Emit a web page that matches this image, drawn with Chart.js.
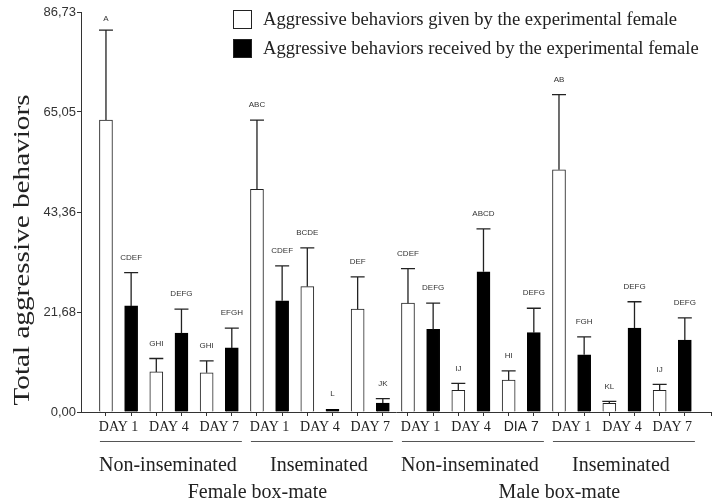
<!DOCTYPE html>
<html>
<head>
<meta charset="utf-8">
<script src="https://cdn.jsdelivr.net/npm/chart.js@4.4.1/dist/chart.umd.min.js"></script>
<style>
  html, body { margin: 0; padding: 0; background: #fff; }
  #wrap { width: 714px; height: 502px; }
</style>
</head>
<body>
<div id="wrap"><canvas id="chart" width="714" height="502"></canvas></div>
<script>
// 各グループの日付ラベル
const dayLabels = ['DAY 1', 'DAY 4', 'DAY 7', 'DAY 1', 'DAY 4', 'DAY 7', 'DAY 1', 'DAY 4', 'DIA 7', 'DAY 1', 'DAY 4', 'DAY 7'];
const statusLabels = ['Non-inseminated', 'Inseminated', 'Non-inseminated', 'Inseminated'];
const mateLabels = ['Female box-mate', 'Male box-mate'];

const seriesNames = ['Aggressive behaviors given by the experimental female', 'Aggressive behaviors received by the experimental female'];

// 平均値と誤差（上側）
const givenValues = [63.3, 8.7, 8.5, 48.3, 27.2, 22.3, 23.6, 4.7, 6.9, 52.5, 1.9, 4.7];
const givenErrors = [19.5, 2.9, 2.6, 15.0, 8.4, 7.0, 7.5, 1.5, 2.0, 16.3, 0.4, 1.3];
const receivedValues = [23.0, 17.1, 13.9, 24.1, 0.6, 1.95, 17.9, 30.4, 17.2, 12.4, 18.2, 15.6];
const receivedErrors = [7.2, 5.2, 4.3, 7.6, 0, 0.95, 5.7, 9.3, 5.3, 3.9, 5.7, 4.8];

// 有意差の文字
const givenLetters = ['A', 'GHI', 'GHI', 'ABC', 'BCDE', 'DEF', 'CDEF', 'IJ', 'HI', 'AB', 'KL', 'IJ'];
const receivedLetters = ['CDEF', 'DEFG', 'EFGH', 'CDEF', 'L', 'JK', 'DEFG', 'ABCD', 'DEFG', 'FGH', 'DEFG', 'DEFG'];

const yTicks = [0, 21.68, 43.36, 65.05, 86.73];

const SERIF = '"Liberation Serif", "Times New Roman", serif';
const SANS = '"Liberation Sans", Arial, sans-serif';
const INK = '#222';

// 白と黒の棒はカテゴリの左右に並べる
const half = 0.25;
const toPoints = (values, shift) => values.map((v, i) => ({ x: i + shift, y: v }));

const extrasPlugin = {
  id: 'extras',
  afterDatasetsDraw(chart) {
    const ctx = chart.ctx;
    const x = chart.scales.x;
    const y = chart.scales.y;
    const errs = [givenErrors, receivedErrors];
    const letters = [givenLetters, receivedLetters];

    // 誤差棒と文字
    chart.data.datasets.forEach((ds, d) => {
      const meta = chart.getDatasetMeta(d);
      meta.data.forEach((bar, i) => {
        const top = y.getPixelForValue(ds.data[i].y + errs[d][i]);
        ctx.save();
        ctx.strokeStyle = INK;
        ctx.lineWidth = 1.3;
        if (errs[d][i] > 0) {
          ctx.beginPath();
          ctx.moveTo(bar.x, bar.y);
          ctx.lineTo(bar.x, top);
          ctx.moveTo(bar.x - 7, top);
          ctx.lineTo(bar.x + 7, top);
          ctx.stroke();
        }
        ctx.fillStyle = '#333';
        ctx.font = '8px ' + SANS;
        ctx.textAlign = 'center';
        ctx.textBaseline = 'middle';
        ctx.fillText(letters[d][i], bar.x, Math.max(19, top - 15));
        ctx.restore();
      });
    });

    // グループの線とラベル
    ctx.save();
    ctx.strokeStyle = '#555';
    ctx.lineWidth = 1;
    ctx.fillStyle = INK;
    ctx.textAlign = 'center';
    ctx.textBaseline = 'alphabetic';
    ctx.font = '20px ' + SERIF;
    statusLabels.forEach((lab, g) => {
      const first = g * 3;
      const x0 = x.getPixelForValue(first - 0.37);
      const x1 = x.getPixelForValue(first + 2 + 0.45);
      ctx.beginPath();
      ctx.moveTo(x0, 441.5);
      ctx.lineTo(x1, 441.5);
      ctx.stroke();
      ctx.fillText(lab, x.getPixelForValue(first + 1) - 1, 471);
    });
    mateLabels.forEach((lab, m) => {
      const mid = x.getPixelForValue(m * 6 + 2.5) + 13;
      ctx.fillText(lab, mid, 498);
    });

    // 凡例
    ctx.font = '18.6px ' + SERIF;
    ctx.textAlign = 'left';
    ctx.textBaseline = 'middle';
    const fills = ['#fff', '#000'];
    seriesNames.forEach((name, k) => {
      const top = 10 + k * 29;
      ctx.fillStyle = fills[k];
      ctx.fillRect(233, top, 19, 19);
      ctx.strokeStyle = INK;
      ctx.strokeRect(233.5, top + 0.5, 18, 18);
      ctx.fillStyle = INK;
      ctx.fillText(name, 263, top + 10);
    });

    // 縦軸タイトル
    ctx.translate(23, 250);
    ctx.rotate(-Math.PI / 2);
    ctx.scale(1.27, 1);
    ctx.font = '23px ' + SERIF;
    ctx.textAlign = 'center';
    ctx.fillText('Total aggressive behaviors', 0, 0);
    ctx.restore();
  }
};

new Chart(document.getElementById('chart').getContext('2d'), {
  type: 'bar',
  data: {
    datasets: [
      {
        label: seriesNames[0],
        data: toPoints(givenValues, -half),
        backgroundColor: '#fff',
        borderColor: INK,
        borderWidth: 1
      },
      {
        label: seriesNames[1],
        data: toPoints(receivedValues, half),
        backgroundColor: '#000',
        borderColor: '#000',
        borderWidth: 1
      }
    ]
  },
  options: {
    responsive: false,
    animation: false,
    grouped: false,
    barThickness: 13,
    layout: { padding: { top: 12, right: 3, left: 0, bottom: 0 } },
    plugins: { legend: { display: false }, tooltip: { enabled: false } },
    scales: {
      x: {
        type: 'linear',
        min: -0.746,
        max: 11.77,
        offset: false,
        afterFit: (s) => { s.height = 90; },
        afterBuildTicks: (s) => {
          const t = [];
          dayLabels.forEach((_, i) => {
            t.push({ value: i - half }, { value: i }, { value: i + half });
          });
          t.push({ value: 11.77 });
          s.ticks = t;
        },
        border: { color: '#333', width: 1 },
        grid: {
          offset: false,
          drawOnChartArea: false,
          tickLength: 4,
          color: (c) => (c.tick && Number.isInteger(c.tick.value) ? 'rgba(0,0,0,0)' : '#333')
        },
        ticks: {
          autoSkip: false,
          maxRotation: 0,
          padding: 3,
          color: INK,
          callback: (v) => (Number.isInteger(v) ? dayLabels[v] : ''),
          font: (c) => {
            const lab = c.tick && Number.isInteger(c.tick.value) ? dayLabels[c.tick.value] : '';
            return lab === 'DIA 7' ? { family: SANS, size: 14 } : { family: SERIF, size: 14 };
          }
        }
      },
      y: {
        min: 0,
        max: 86.73,
        afterFit: (s) => { s.width = 81; },
        afterBuildTicks: (s) => { s.ticks = yTicks.map((v) => ({ value: v })); },
        border: { color: '#333', width: 1 },
        grid: { drawOnChartArea: false, tickLength: 4, color: '#333' },
        ticks: {
          padding: 1,
          color: '#333',
          font: { family: SANS, size: 13 },
          callback: (v) => v.toFixed(2).replace('.', ',')
        }
      }
    }
  },
  plugins: [extrasPlugin]
});
</script>
</body>
</html>
